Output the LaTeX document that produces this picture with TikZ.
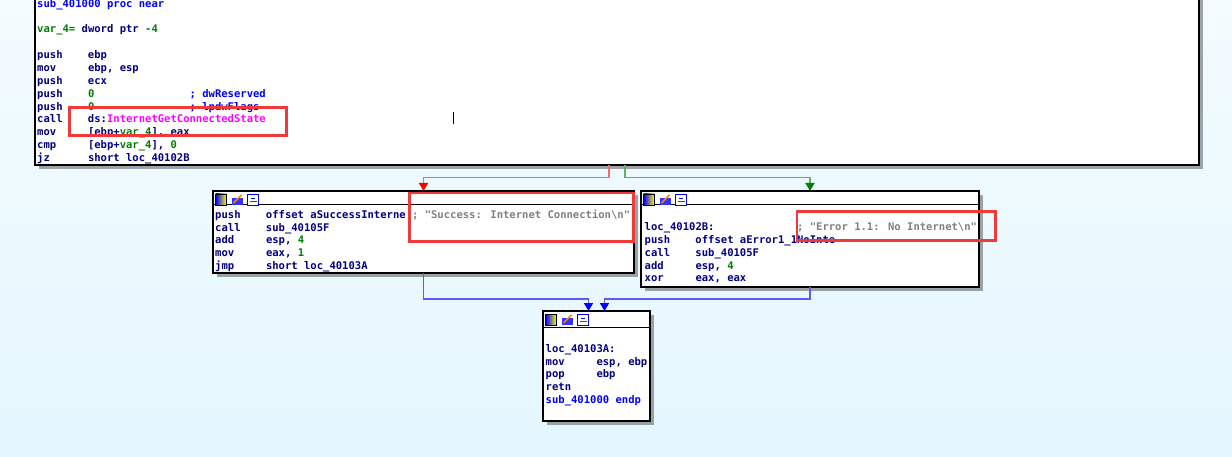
\documentclass[tikz,border=0pt]{standalone}
\usepackage{fontspec}
\usetikzlibrary{arrows.meta,shadows}
\newfontfamily\idafont{DejaVu Sans Mono}
\definecolor{idanavy}{RGB}{0,0,128}
\definecolor{idablue}{RGB}{0,0,255}
\definecolor{idagreen}{RGB}{0,128,0}
\definecolor{idapink}{RGB}{255,0,255}
\definecolor{idagray}{RGB}{128,128,128}
\definecolor{hlred}{RGB}{240,58,58}
\definecolor{bgtop}{RGB}{243,251,255}
\definecolor{bgbot}{RGB}{228,247,254}
\definecolor{edgered}{RGB}{240,110,110}
\definecolor{edgegreen}{RGB}{100,175,100}
\definecolor{edgeblue}{RGB}{90,90,255}
% columns of the listing (8 and 24 characters)
\newcommand{\asmop}[2]{\makebox[50.8pt][l]{#1}#2}
\newcommand{\asmcmt}[2]{\makebox[152.4pt][l]{#1}#2}
\newcommand{\varfour}{\textcolor{idagreen}{var\_4}}
\tikzset{
  icons/.pic={
    \shade[left color=blue, middle color=red, right color=yellow] (0,0) rectangle (11,11);
    \draw[line width=.6pt] (0,0) rectangle (11,11);
    \fill[idablue!80] (16,4) rectangle (27,11);
    \draw[orange, line width=1.6pt] (18,9) -- (26,1);
    \draw[idablue, fill=white, line width=.7pt] (32,0) rectangle (43,11);
    \draw[red, line width=.8pt] (34,7) -- (41,7);
    \draw[idablue, line width=.8pt] (35,4) -- (39,4);
  }
}
\begin{document}
\begin{tikzpicture}[x=1pt, y=-1pt,
  block/.style={draw, line width=1.3pt, fill=white, anchor=north west, inner sep=0pt, outer sep=0pt,
    drop shadow={shadow xshift=4pt, shadow yshift=-4pt, opacity=.5, fill=black!70}},
  code/.style={anchor=base west, inner sep=0pt, text=idanavy, font=\idafont\bfseries\fontsize{10.55}{12.8}\selectfont},
  hl/.style={draw=hlred, line width=2.7pt, inner sep=0pt},
  flow/.style={line width=1.8pt}]
\useasboundingbox (0,0) rectangle (1232,457);
\shade[top color=bgtop, bottom color=bgbot] (0,0) rectangle (1232,457);
% blocks of the graph:
\node[block, minimum width=1164pt, minimum height=175pt] (B1) at (35,-10) {};
\node[block, minimum width=421pt, minimum height=82pt] (B2) at (213,191) {};
\node[block, minimum width=338pt, minimum height=96pt] (B3) at (641,191) {};
\node[block, minimum width=107pt, minimum height=110pt] (B4) at (543,311) {};
\foreach \b/\h in {B2/14, B3/14, B4/16} {
  \draw[line width=1pt] ([yshift=-\h pt]\b.north west) -- ([yshift=-\h pt]\b.north east);
  \pic at ([shift={(2.5pt,-3pt)}]\b.north west) {icons};
}
% listing:
\foreach \y/\t [count=\i] in {
  4/{\textcolor{idablue}{sub\_401000 proc near}},
  29/{\textcolor{idagreen}{var\_4=} dword ptr \textcolor{idagreen}{-4}},
  55/{\asmop{push}{ebp}},
  67.8/{\asmop{mov}{ebp, esp}},
  80.6/{\asmop{push}{ecx}},
  93.4/{\asmcmt{\asmop{push}{\textcolor{idagreen}{0}}}{\textcolor{idablue}{; dwReserved}}},
  106.2/{\asmcmt{\asmop{push}{\textcolor{idagreen}{0}}}{\textcolor{idablue}{; lpdwFlags}}},
  119/{\asmop{call}{ds:\textcolor{idapink}{InternetGetConnectedState}}},
  131.8/{\asmop{mov}{[ebp+\varfour], eax}},
  144.6/{\asmop{cmp}{[ebp+\varfour], \textcolor{idagreen}{0}}},
  157.4/{\asmop{jz}{short loc\_40102B}}}
  \node[code] (a\i) at (37,\y+4) {\t};
\foreach \y/\t [count=\i] in {
  214.3/{\asmop{push}{offset aSuccessInterne \textcolor{idagray}{; "Success: Internet Connection\textbackslash n"}}},
  227.1/{\asmop{call}{sub\_40105F}},
  239.9/{\asmop{add}{esp, \textcolor{idagreen}{4}}},
  252.7/{\asmop{mov}{eax, \textcolor{idagreen}{1}}},
  265.5/{\asmop{jmp}{short loc\_40103A}}}
  \node[code] (b\i) at (215,\y+4) {\t};
\foreach \y/\t [count=\i] in {
  226.7/{\asmcmt{loc\_40102B:}{\textcolor{idagray}{; "Error 1.1: No Internet\textbackslash n"}}},
  239.5/{\asmop{push}{offset aError1\_1NoInte}},
  252.3/{\asmop{call}{sub\_40105F}},
  265.1/{\asmop{add}{esp, \textcolor{idagreen}{4}}},
  277.9/{\asmop{xor}{eax, eax}}}
  \node[code] (c\i) at (644.5,\y+4) {\t};
\foreach \y/\t [count=\i] in {
  348.3/{loc\_40103A:},
  361.1/{\asmop{mov}{esp, ebp}},
  373.9/{\asmop{pop}{ebp}},
  386.7/{retn},
  399.5/{\textcolor{idablue}{sub\_401000 endp}}}
  \node[code] (d\i) at (545.5,\y+4) {\t};
% jumps:
\draw[flow, edgered, -{Triangle[width=9pt,length=8pt,color=red]}] ([xshift=-8pt]B1.south) -- ++(0,12.5) -| (B2.north);
\draw[flow, edgegreen, -{Triangle[width=9pt,length=8pt,color=green!50!black]}] ([xshift=8pt]B1.south) -- ++(0,12.5) -| (B3.north);
\draw[flow, edgeblue, -{Triangle[width=9pt,length=8pt,color=idablue]}] (B2.south) -- ++(0,26) -| ([xshift=-8pt]B4.north);
\draw[flow, edgeblue, -{Triangle[width=9pt,length=8pt,color=idablue]}] (B3.south) -- ++(0,12) -| ([xshift=8pt]B4.north);
% highlights:
\node[hl, minimum width=217pt, minimum height=28pt] (h1) at (178,121.5) {};
\node[hl, minimum width=224pt, minimum height=48.3pt] (h2) at (521.7,217.2) {};
\node[hl, minimum width=198.7pt, minimum height=29pt] (h3) at (896.4,225.8) {};
% text cursor
\draw[line width=.8pt] (453,112) -- (453,124);
\end{tikzpicture}
\end{document}
